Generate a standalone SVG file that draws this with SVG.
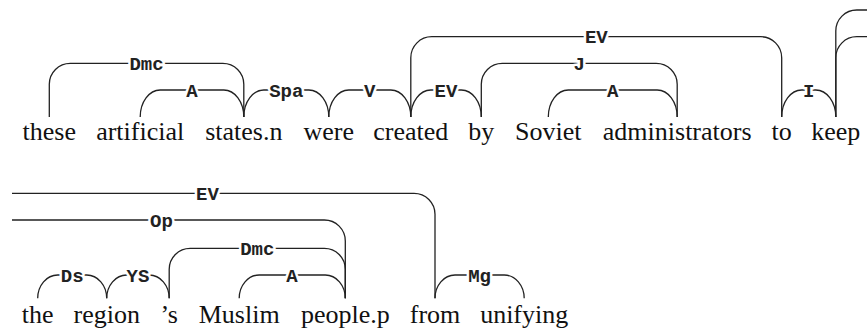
<svg xmlns="http://www.w3.org/2000/svg" width="867" height="333" viewBox="0 0 867 333">
<style>
.w{font-family:"Liberation Serif","Times New Roman",serif;font-size:26px;fill:#111;text-anchor:middle}
.l{fill:none;stroke:#222;stroke-width:1.3}
.t{font-family:"Liberation Mono","Courier New",monospace;font-weight:bold;font-size:19px;fill:#222;text-anchor:middle;stroke:#fff;stroke-width:5;paint-order:stroke;stroke-linejoin:round}
</style>
<rect width="867" height="333" fill="#fff"/>
<g id="connectors">
<path class="l" d="M49.3 117 V84.3 A21 21 0 0 1 70.3 63.3 H222.8 A21 21 0 0 1 243.8 84.3 V117"/>
<path class="l" d="M140.2 117 A20 27 0 0 1 160.2 90 H223.8 A20 27 0 0 1 243.8 117"/>
<path class="l" d="M243.8 117 A20 27 0 0 1 263.8 90 H308.8 A20 27 0 0 1 328.8 117"/>
<path class="l" d="M328.8 117 A20 27 0 0 1 348.8 90 H390.8 A20 27 0 0 1 410.8 117"/>
<path class="l" d="M410.8 117 A20 27 0 0 1 430.8 90 H461.3 A20 27 0 0 1 481.3 117"/>
<path class="l" d="M410.8 117 V57.7 A21 21 0 0 1 431.8 36.7 H760.7 A21 21 0 0 1 781.7 57.7 V117"/>
<path class="l" d="M481.3 117 V84.3 A21 21 0 0 1 502.3 63.3 H656.2 A21 21 0 0 1 677.2 84.3 V117"/>
<path class="l" d="M548.3 117 A20 27 0 0 1 568.3 90 H657.2 A20 27 0 0 1 677.2 117"/>
<path class="l" d="M781.7 117 A20 27 0 0 1 801.7 90 H815.8 A20 27 0 0 1 835.8 117"/>
<path class="l" d="M835.8 117 V31 A21 21 0 0 1 856.8 10 H867"/>
<path class="l" d="M835.8 117 V57.7 A21 21 0 0 1 856.8 36.7 H867"/>
<path class="l" d="M12 193.3 H414 A21 21 0 0 1 435 214.3 V298.3"/>
<path class="l" d="M12 220 H324.3 A21 21 0 0 1 345.3 241 V298.3"/>
<path class="l" d="M169.2 298.3 V269.3 A21 21 0 0 1 190.2 248.3 H324.3 A21 21 0 0 1 345.3 269.3 V298.3"/>
<path class="l" d="M239.2 298.3 A20 23.3 0 0 1 259.2 275 H325.3 A20 23.3 0 0 1 345.3 298.3"/>
<path class="l" d="M37.7 298.3 A20 23.3 0 0 1 57.7 275 H86.7 A20 23.3 0 0 1 106.7 298.3"/>
<path class="l" d="M106.7 298.3 A20 23.3 0 0 1 126.7 275 H149.2 A20 23.3 0 0 1 169.2 298.3"/>
<path class="l" d="M435 298.3 A20 23.3 0 0 1 455 275 H504.2 A20 23.3 0 0 1 524.2 298.3"/>
<text class="t" x="146.5" y="69.8">Dmc</text>
<text class="t" x="192" y="96.5">A</text>
<text class="t" x="286.3" y="96.5">Spa</text>
<text class="t" x="369.8" y="96.5">V</text>
<text class="t" x="446" y="96.5">EV</text>
<text class="t" x="596.3" y="43.2">EV</text>
<text class="t" x="579.3" y="69.8">J</text>
<text class="t" x="612.7" y="96.5">A</text>
<text class="t" x="808.7" y="96.5">I</text>
<text class="t" x="207.5" y="199.8">EV</text>
<text class="t" x="161.5" y="226.5">Op</text>
<text class="t" x="257.3" y="254.8">Dmc</text>
<text class="t" x="292" y="281.5">A</text>
<text class="t" x="72.2" y="281.5">Ds</text>
<text class="t" x="138" y="281.5">YS</text>
<text class="t" x="479.6" y="281.5">Mg</text>
</g>
<g id="w-these"><text class="w" x="49.3" y="140">these</text></g>
<g id="w-artificial"><text class="w" x="140.2" y="140">artificial</text></g>
<g id="w-states"><text class="w" x="243.8" y="140">states.n</text></g>
<g id="w-were"><text class="w" x="328.8" y="140">were</text></g>
<g id="w-created"><text class="w" x="410.8" y="140">created</text></g>
<g id="w-by"><text class="w" x="481.3" y="140">by</text></g>
<g id="w-Soviet"><text class="w" x="548.3" y="140">Soviet</text></g>
<g id="w-administrators"><text class="w" x="677.2" y="140">administrators</text></g>
<g id="w-to"><text class="w" x="781.7" y="140">to</text></g>
<g id="w-keep"><text class="w" x="835.8" y="140">keep</text></g>
<g id="w-the"><text class="w" x="37.7" y="322.7">the</text></g>
<g id="w-region"><text class="w" x="106.7" y="322.7">region</text></g>
<g id="w-s"><text class="w" x="169.2" y="322.7">’s</text></g>
<g id="w-Muslim"><text class="w" x="239.2" y="322.7">Muslim</text></g>
<g id="w-people"><text class="w" x="345.3" y="322.7">people.p</text></g>
<g id="w-from"><text class="w" x="435" y="322.7">from</text></g>
<g id="w-unifying"><text class="w" x="524.2" y="322.7">unifying</text></g>
</svg>
